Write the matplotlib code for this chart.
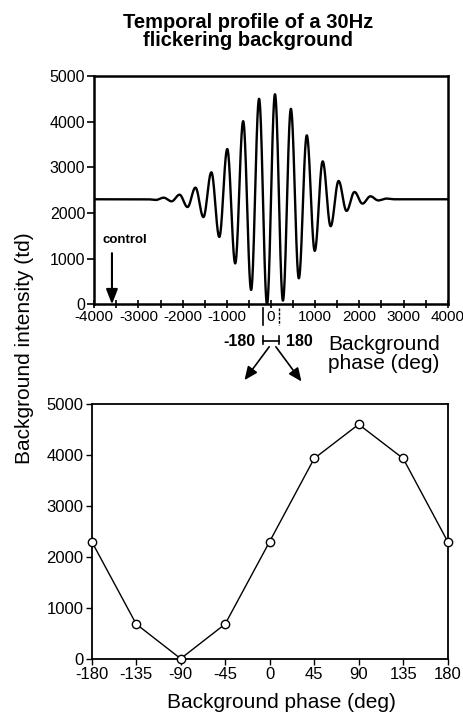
import numpy as np
import matplotlib.pyplot as plt

plt.rcParams['font.family'] = ['Liberation Sans', 'DejaVu Sans']
plt.rcParams['axes.unicode_minus'] = False

# flicker trace: phase (deg) of each extremum and its intensity (td)
ext_phase = [-2790, -2610, -2430, -2250, -2070, -1890, -1710, -1530, -1350, -1170,
             -990, -810, -630, -450, -270, -90, 90, 270, 450, 630,
             810, 990, 1170, 1350, 1530, 1710, 1890, 2070, 2250, 2430,
             2610, 2790]
ext_value = [2300, 2285, 2335, 2255, 2400, 2130, 2555, 1910, 2890, 1475,
             3400, 895, 4010, 315, 4500, 0, 4600, 80, 4280, 570,
             3700, 1170, 3130, 1710, 2700, 2045, 2460, 2205, 2365, 2275,
             2315, 2300]
baseline = 2300
x_range = [-4000, 4000]

# one cycle expanded
cycle_phase = [-180, -135, -90, -45, 0, 45, 90, 135, 180]
cycle_value = [2300, 680, 0, 680, 2300, 3930, 4600, 3930, 2300]

# smooth half-cosine segments between neighbouring extrema
tx, ty = [x_range[0]], [baseline]
for (x0, y0), (x1, y1) in zip(zip(ext_phase[:-1], ext_value[:-1]),
                              zip(ext_phase[1:], ext_value[1:])):
    t = np.linspace(0, 1, 40)
    tx.extend(x0 + (x1 - x0) * t)
    ty.extend(y0 + (y1 - y0) * (1 - np.cos(np.pi * t)) / 2)
tx.append(x_range[1])
ty.append(baseline)

fig = plt.figure(figsize=(4.64, 7.12), dpi=100)

ax1 = fig.add_axes([0.2032, 0.5726, 0.7617, 0.3207])
ax1.plot(tx, ty, color='black', lw=1.7)
ax1.set_xlim(*x_range)
ax1.set_ylim(0, 5000)
ax1.set_xticks(np.arange(-4000, 4001, 1000))
ax1.set_xticks(np.arange(-3500, 4000, 1000), minor=True)
ax1.set_yticks(np.arange(0, 5001, 1000))
ax1.tick_params(axis='x', which='both', direction='inout', length=6, width=1.2,
                labelsize=11, pad=1)
ax1.tick_params(axis='y', direction='out', length=5, width=1.2,
                labelsize=11.5, pad=1.5)
for s in ax1.spines.values():
    s.set_linewidth(1.8)

fig.text(0.535, 1 - 13 / 712, 'Temporal profile of a 30Hz\nflickering background',
         ha='center', va='top', fontsize=14.5, fontweight='bold', linespacing=0.95)

# control marker
ax1.annotate('', xy=(-3600, 0), xytext=(-3600, 1120),
             arrowprops=dict(arrowstyle='-|>,head_length=0.9,head_width=0.35',
                             color='black', lw=1.5, shrinkA=0, shrinkB=0))
ax1.text(-3300, 1400, 'control', ha='center', va='center',
         fontsize=9.5, fontweight='bold')

# +/-180 window around zero
kw = dict(color='black', lw=1.2, clip_on=False)
ax1.plot([-180, -180], [-80, -450], **kw)
ax1.plot([180, 180], [-80, -450], color='black', lw=1.0, ls=(0, (2, 1)), clip_on=False)
ax1.plot([-180, 180], [-795, -795], **kw)
ax1.plot([-180, -180], [-700, -880], **kw)
ax1.plot([180, 180], [-700, -880], **kw)
ax1.text(-350, -820, '-180', ha='right', va='center', fontsize=11.5, fontweight='bold')
ax1.text(330, -820, '180', ha='left', va='center', fontsize=11.5, fontweight='bold')
arrow = dict(arrowstyle='-|>,head_length=0.8,head_width=0.35', color='black',
             lw=1.2, shrinkA=0, shrinkB=0)
ax1.annotate('', xy=(-600, -1660), xytext=(-40, -930), arrowprops=arrow,
             annotation_clip=False)
ax1.annotate('', xy=(690, -1690), xytext=(110, -930), arrowprops=arrow,
             annotation_clip=False)
fig.text(328 / 464, 1 - 335 / 712, 'Background\nphase (deg)', ha='left', va='top',
         fontsize=15, linespacing=1.0)

ax2 = fig.add_axes([0.1976, 0.0749, 0.7672, 0.3577])
ax2.plot(cycle_phase, cycle_value, color='black', lw=1.0, marker='o',
         markersize=6, markerfacecolor='white', markeredgecolor='black',
         markeredgewidth=1.0, clip_on=False, zorder=3)
ax2.set_xlim(-180, 180)
ax2.set_ylim(0, 5000)
ax2.set_xticks(cycle_phase)
ax2.set_yticks(np.arange(0, 5001, 1000))
ax2.tick_params(direction='out', length=4, width=1.0, labelsize=12, pad=2)
for s in ax2.spines.values():
    s.set_linewidth(1.3)

fig.text(281 / 464, 1 - 708 / 712, 'Background phase (deg)', ha='center',
         va='baseline', fontsize=15)
fig.text(25 / 464, 1 - 348 / 712, 'Background intensity (td)', ha='center',
         va='center', rotation=90, fontsize=15)

fig.savefig('out.png', dpi=100)
